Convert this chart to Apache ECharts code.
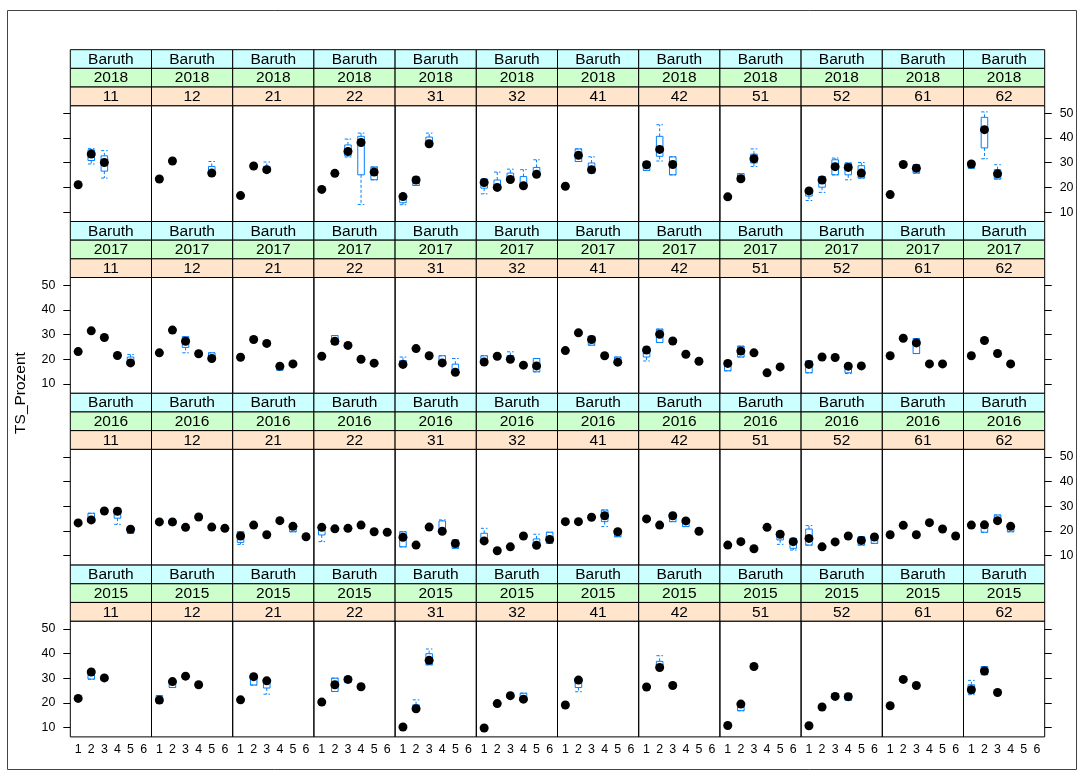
<!DOCTYPE html>
<html><head><meta charset="utf-8">
<script src="https://cdn.jsdelivr.net/npm/echarts@6/dist/echarts.min.js"></script>
<style>html,body{margin:0;padding:0;background:#fff}#c{width:1085px;height:778px}</style>
</head><body><div id="c"></div>
<script>
const site = 'Baruth';
const years = ['2018', '2017', '2016', '2015'];
const plots = ['11','12','21','22','31','32','41','42','51','52','61','62'];
const xTicks = [1, 2, 3, 4, 5, 6];
const yTicks = [10, 20, 30, 40, 50];
const yTitle = 'TS_Prozent';

// each entry: [x, median]  or  [x, whiskerLow, q1, median, q3, whiskerHigh]
const data2018 = [
  [[1,21.1],[2,29.5,30.9,33.5,35.2,35.7],[3,23.8,26.6,30.1,32.8,34.9]],
  [[1,22.6,22.6,23.4,24,24],[2,30.7],[5,24.8,24.8,25.8,28.5,30.5]],
  [[1,16.7],[2,28.7],[3,26.1,26.1,27.2,28.5,30.3]],
  [[1,19.2],[2,25.7],[3,32.3,32.8,34.6,37.2,39.6],[4,13.1,25.1,38.2,40.7,42.0],[5,23.1,23.1,26.2,28.3,28.3]],
  [[1,13,13.8,16.3,17.2,17.5],[2,20.8,20.8,23.0,24.2,24.2],[3,36.5,37,37.7,40.4,42]],
  [[1,17.4,19.7,22.0,23.1,23.5],[2,19.5,19.8,20.0,23.0,26.2],[3,22.5,22.5,23.2,25.8,27.4],[4,20.3,20.5,20.7,24.4,27.2],[5,25.0,25.2,25.3,28.1,31.2]],
  [[1,20.5],[2,30.5,30.5,33.0,35.6,35.6],[3,25.8,25.8,27.2,29.9,32.4]],
  [[1,26.9,26.9,29.2,30.5,30.5],[2,30.7,32.6,35.4,40.7,45.4],[3,25.1,25.1,29.3,32.4,32.4]],
  [[1,16.2],[2,22.5,22.5,23.5,25.6,25.6],[3,28.5,29.9,31.6,33.5,35.6]],
  [[1,14.7,16.5,18.6,18.8,19],[2,18.0,20.1,23.0,24.4,24.4],[3,25.1,25.1,28.4,31.2,31.9],[4,23.1,25.1,28.1,29.9,29.9],[5,23.8,23.8,25.8,28.8,30.1]],
  [[1,17.1],[2,29.3],[3,25.8,25.8,27.8,29.2,29.2]],
  [[1,27.8,27.8,29.5,30.5,30.5],[2,31.6,36.0,43.4,48.4,50.6],[3,23.4,23.4,25.5,27.2,29.2]]
];
const data2017 = [
  [[1,23.1],[2,31.5],[3,28.3,28.3,28.8,29.5,29.5],[4,21.5],[5,18,18,18.5,20.9,21.9]],
  [[1,22.6],[2,31.8],[3,22.6,24.8,27.3,29.1,29.1],[4,22.2],[5,20,20,20.3,22.6,22.6]],
  [[1,20.8],[2,28.0],[3,26.4],[4,15.6,15.6,17.2,17.5,17.5],[5,18.1]],
  [[1,21.2],[2,26,26,27.3,29.6,29.6],[3,25.6],[4,20.0],[5,18.4]],
  [[1,17.5,17.9,17.9,19.5,20.9],[2,24.3],[3,21.4],[4,18,18,18.5,21.4,21.4],[5,14.5,14.5,14.7,18.0,20.3]],
  [[1,18.5,18.5,18.9,21.4,21.4],[2,21.2],[3,20,20,20.0,21.5,23],[4,17.6],[5,14.9,14.9,17.3,20.3,20.3]],
  [[1,23.5],[2,30,30,30.7,31.5,31.5],[3,25.7,25.7,28.0,29.3,29.3],[4,21.4],[5,18.8,18.8,18.8,20.9,20.9]],
  [[1,19.3,20.9,23.7,25,25],[2,26.8,26.8,30.1,32.2,32.2],[3,27.4],[4,22.0],[5,19.2]],
  [[1,15.3,15.3,18.3,18.5,18.5],[2,20.9,20.9,23.3,25.3,25.3],[3,22.6],[4,14.5],[5,16.9]],
  [[1,14.5,14.5,17.9,19.3,19.3],[2,20.9],[3,20.7],[4,14.2,14.5,17.2,17.2,17.2],[5,17.3]],
  [[1,21.4],[2,28.5],[3,22.3,22.3,26.6,28.4,28.4],[4,18.1],[5,18.1]],
  [[1,21.4],[2,27.6],[3,22.3],[4,18.1]]
];
const data2016 = [
  [[1,23.3],[2,23.5,23.5,24.5,27.2,27.2],[3,28.1],[4,22.7,25.2,28.0,29.2,29.2],[5,19.1,19.1,20.7,21.2,21.2]],
  [[1,23.7],[2,22.5,22.5,23.7,24.5,24.5],[3,21.5],[4,25.7],[5,21.6],[6,21.1]],
  [[1,14.6,15.4,18.0,19.7,19.7],[2,22.4],[3,18.5],[4,24.2],[5,19.7,19.7,21.9,22.4,22.4],[6,17.7]],
  [[1,15.7,18.4,21.5,22,22],[2,20.9],[3,21.1],[4,22.4],[5,19.7],[6,19.5]],
  [[1,13.6,13.6,17.5,19.7,19.7],[2,14.3],[3,21.6],[4,19.5,19.5,19.9,24.1,24.5],[5,13.0,13.0,14.9,16.4,16.4]],
  [[1,15.5,15.8,16.0,19.1,21.1],[2,12.0],[3,13.6],[4,18.0],[5,13.8,14.0,14.2,16.8,18.7],[6,15,15,16.6,19.5,19.5]],
  [[1,23.8],[2,23.8],[3,25.6],[4,21.8,23.8,26.2,28.5,28.5],[5,17.7,17.7,19.7,20.5,20.5]],
  [[1,24.9],[2,22.4],[3,23.8,23.8,26.2,26.5,26.5],[4,21.8,21.8,24.1,24.5,24.5],[5,19.9]],
  [[1,14.3],[2,15.7],[3,12.8],[4,21.5],[5,14.6,16.4,18.7,19.7,19.7],[6,12.3,13.0,15.7,17.0,17.0]],
  [[1,14.3,14.3,17.0,20.8,22.2],[2,13.6],[3,15.6],[4,18.0],[5,14.3,14.3,16.2,17.7,17.7],[6,15.0,15.0,17.6,18.0,18.0]],
  [[1,18.5],[2,22.3],[3,18.5],[4,23.4],[5,20.8],[6,18.0]],
  [[1,22.4],[2,19.5,19.5,22.5,23,23],[3,23.5,23.5,24.2,26.5,26.5],[4,19.7,19.7,21.9,22.5,22.5]]
];
const data2015 = [
  [[1,21.8],[2,29.6,29.6,32.5,32.5,32.5],[3,29,29,30.1,30.3,30.3]],
  [[1,19.9,19.9,21.1,22.9,22.9],[2,26.2,26.2,28.6,29,29],[3,30.8],[4,27.3]],
  [[1,21.2],[2,27.2,27.2,30.6,30.8,30.8],[3,23.5,26.0,28.9,29.2,29.2]],
  [[1,19.5,19.5,20.3,21.2,21.2],[2,24.6,24.6,27.3,30.0,30.0],[3,28.2,28.2,29.5,29.5,29.5],[4,26.5]],
  [[1,10.2],[2,17,17,17.6,19.2,21.2],[3,35.4,35.4,37.2,39.9,41.8]],
  [[1,9.8],[2,19.7],[3,22.9],[4,21.5,21.5,21.5,23.9,23.9]],
  [[1,19.1],[2,24.5,26.2,29.2,30.0,30.0]],
  [[1,26.4],[2,34,34,34.3,36.8,39.1],[3,27.0]],
  [[1,10.8],[2,16.8,16.8,19.5,19.5,19.5],[3,34,34,34.7,35,35]],
  [[1,10.7],[2,18.3],[3,22.6,22.6,22.6,23.8,23.8],[4,21,21,22.5,23.8,23.8]],
  [[1,18.8],[2,29,29,29.5,30,30],[3,27.0]],
  [[1,23.3,23.9,25.3,27.3,29.1],[2,31.4,31.4,32.9,34.7,34.7],[3,24.2]]
];
const dataByYear = [data2018, data2017, data2016, data2015];

// ---- layout ----
const L = 70.3, PW = 81.2, T0 = 49.7, SH = 18.67, RB = 171.8, PH = RB - 3 * SH;
const FONT = '"Liberation Sans", Arial, sans-serif';
const BLUE = '#0080ff';
const stripFill = ['#ccffff', '#ccffcc', '#ffe5cc'];

const grids = [], xAxes = [], yAxes = [], series = [], graphics = [];

graphics.push({ type: 'rect', shape: { x: 7.5, y: 10.5, width: 1069, height: 759 },
  style: { fill: 'none', stroke: '#444', lineWidth: 1 }, silent: true });
graphics.push({ type: 'text', x: 21, y: 393, rotation: Math.PI / 2,
  style: { text: yTitle, font: '15.5px ' + FONT, fill: '#000', align: 'center', verticalAlign: 'middle' } });

function renderBox(params, api) {
  const x = api.value(0);
  const lo = api.coord([x, api.value(1)]);
  const q1 = api.coord([x, api.value(2)]);
  const q3 = api.coord([x, api.value(4)]);
  const hi = api.coord([x, api.value(5)]);
  const hw = api.size([0.5, 0])[0] / 2;
  const dash = { stroke: BLUE, lineWidth: 1, lineDash: [3, 2], fill: 'none' };
  return { type: 'group', children: [
    { type: 'line', shape: { x1: q3[0], y1: q3[1], x2: hi[0], y2: hi[1] }, style: dash },
    { type: 'line', shape: { x1: q1[0], y1: q1[1], x2: lo[0], y2: lo[1] }, style: dash },
    { type: 'line', shape: { x1: hi[0] - hw, y1: hi[1], x2: hi[0] + hw, y2: hi[1] }, style: dash },
    { type: 'line', shape: { x1: lo[0] - hw, y1: lo[1], x2: lo[0] + hw, y2: lo[1] }, style: dash },
    { type: 'rect', shape: { x: q1[0] - hw, y: q3[1], width: 2 * hw, height: q1[1] - q3[1] },
      style: { stroke: BLUE, lineWidth: 1, fill: 'none' } }
  ] };
}

years.forEach((yr, r) => {
  plots.forEach((pl, c) => {
    const i = r * 12 + c;
    const left = L + c * PW;
    const stripTop = T0 + r * RB;
    const top = stripTop + 3 * SH;
    grids.push({ left: left, top: top, width: PW, height: PH, show: true,
      borderColor: '#000', borderWidth: 1, backgroundColor: 'transparent' });
    [site, yr, pl].forEach((t, k) => {
      graphics.push({ type: 'rect', shape: { x: left, y: stripTop + k * SH, width: PW, height: SH },
        style: { fill: stripFill[k], stroke: '#000', lineWidth: 1 }, silent: true });
      graphics.push({ type: 'text', x: left + PW / 2, y: stripTop + k * SH + SH / 2 + 0.5,
        style: { text: t, font: '15.5px ' + FONT, fill: '#000', align: 'center', verticalAlign: 'middle' }, silent: true });
    });
    xAxes.push({ type: 'value', gridIndex: i, min: 0.4, max: 6.6,
      axisLine: { show: false }, axisTick: { show: false }, splitLine: { show: false },
      axisLabel: { show: r === 3, customValues: xTicks, fontSize: 12.4, fontFamily: FONT, color: '#000', margin: 7 } });
    const edge = c === 0 || c === 11;
    const labelled = (c === 0 && r % 2 === 1) || (c === 11 && r % 2 === 0);
    yAxes.push({ type: 'value', gridIndex: i, min: 6.2, max: 53.1, position: c === 11 ? 'right' : 'left',
      show: edge, axisLine: { show: false }, splitLine: { show: false },
      axisTick: { show: edge, length: 7, customValues: yTicks, lineStyle: { color: '#000', width: 1 } },
      axisLabel: { show: labelled, customValues: yTicks, fontSize: 12.4, fontFamily: FONT, color: '#000', margin: 15 } });
    const panel = dataByYear[r][c];
    const boxes = panel.filter(d => d.length === 6);
    series.push({ type: 'custom', xAxisIndex: i, yAxisIndex: i, renderItem: renderBox,
      data: boxes, z: 2, silent: true, clip: false });
    series.push({ type: 'scatter', xAxisIndex: i, yAxisIndex: i, symbol: 'circle', symbolSize: 9,
      itemStyle: { color: '#000', opacity: 1 }, z: 3, silent: true,
      data: panel.map(d => [d[0], d.length === 6 ? d[3] : d[1]]) });
  });
});

const chart = echarts.init(document.getElementById('c'), null, { renderer: 'canvas' });
chart.setOption({ animation: false, backgroundColor: '#fff', grid: grids, xAxis: xAxes, yAxis: yAxes,
  series: series, graphic: graphics });
</script></body></html>
